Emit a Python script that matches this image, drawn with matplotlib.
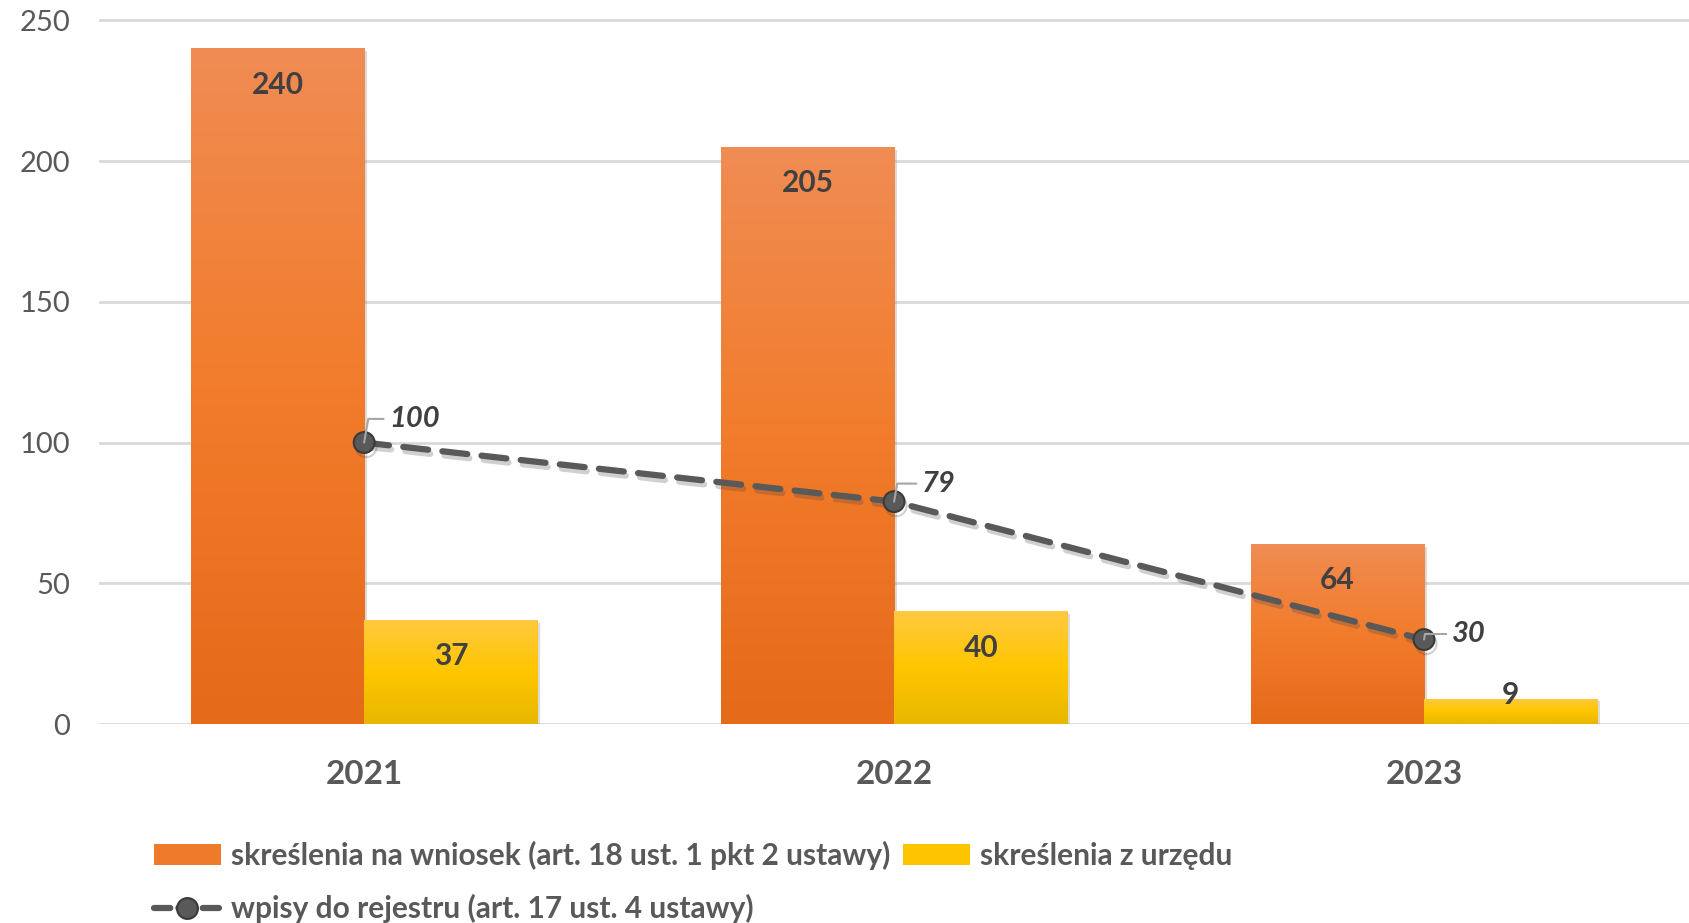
import matplotlib
matplotlib.use("Agg")
import matplotlib.pyplot as plt
import matplotlib.patheffects as pe
import numpy as np
from matplotlib.colors import LinearSegmentedColormap
from matplotlib.lines import Line2D
from matplotlib.patches import Patch

# data
years = ["2021", "2022", "2023"]
na_wniosek = [240, 205, 64]
z_urzedu = [37, 40, 9]
wpisy = [100, 79, 30]

label_bars = "skreślenia na wniosek (art. 18 ust. 1 pkt 2 ustawy)"
label_urzad = "skreślenia z urzędu"
label_wpisy = "wpisy do rejestru (art. 17 ust. 4 ustawy)"

# offsets (points) of the italic line labels from their markers
line_label_offsets = [(18, 17), (20, 13), (20, 4)]

plt.rcParams["font.family"] = ["Lato", "DejaVu Sans"]

TXT = "#595959"
DARK = "#404040"
orange_cmap = LinearSegmentedColormap.from_list("o", ["#E56A1A", "#F27C2B", "#F08C54"])
yellow_cmap = LinearSegmentedColormap.from_list("y", ["#E8B700", "#FFC600", "#FFC940"])

fig = plt.figure(figsize=(16.89, 9.23), dpi=100)
ax = fig.add_axes([0.0587, 0.2156, 0.9413, 0.7654])

x = np.arange(len(years))
w = 0.327

shadow = [pe.SimplePatchShadow(offset=(2, -2), shadow_rgbFace="#8a8a8a", alpha=0.3), pe.Normal()]
b1 = ax.bar(x - w / 2, na_wniosek, w, color="#F27C2B", zorder=2, path_effects=shadow)
b2 = ax.bar(x + w / 2, z_urzedu, w, color="#FFC600", zorder=2, path_effects=shadow)

# vertical gradients clipped to each bar
grad = np.linspace(0, 1, 256).reshape(-1, 1)
for bars, cmap in ((b1, orange_cmap), (b2, yellow_cmap)):
    for p in bars:
        x0, y0 = p.get_x(), p.get_y()
        im = ax.imshow(grad, cmap=cmap, origin="lower", aspect="auto",
                       extent=[x0, x0 + p.get_width(), y0, y0 + p.get_height()],
                       zorder=2.1, interpolation="bicubic")
        im.set_clip_path(p)

# bar value labels
for bars, vals in ((b1, na_wniosek), (b2, z_urzedu)):
    for p, v in zip(bars, vals):
        off = -26 if v > 20 else 3
        ax.annotate(f"{v}", (p.get_x() + p.get_width() / 2, v), xytext=(0, off),
                    textcoords="offset points", ha="center", va="center",
                    fontsize=21.5, fontweight="bold", color=DARK, zorder=5)

line_style = dict(color=TXT, lw=4.5, dash_capstyle="round",
                  marker="o", ms=15, mfc=TXT, mec="#3a3a3a", mew=1.5)
ax.plot(x, wpisy, zorder=4, ls=(0, (4, 2.3)), **line_style,
        path_effects=[pe.SimpleLineShadow(offset=(1.5, -3), shadow_color="#444444", alpha=0.25),
                      pe.Normal()])

for xi, v, (dx, dy) in zip(x, wpisy, line_label_offsets):
    ax.annotate(f"{v}", (xi, v), xytext=(dx, dy), textcoords="offset points",
                ha="left", va="center", fontsize=21, fontweight="bold", fontstyle="italic",
                color=DARK, zorder=6,
                arrowprops=dict(arrowstyle="-", color="#a6a6a6", lw=1.5, shrinkA=2, shrinkB=0,
                                connectionstyle="angle,angleA=0,angleB=80,rad=0"))

ax.set_xlim(-0.5, 2.5)
ax.set_ylim(0, 251)
ax.set_yticks([0, 50, 100, 150, 200, 250])
ax.set_xticks(x)
ax.set_xticklabels(years, fontsize=24, fontweight="bold", color=TXT)
ax.tick_params(axis="y", labelsize=21, labelcolor=TXT, length=0, pad=21)
ax.tick_params(axis="x", length=0, pad=26)
ax.yaxis.grid(True, color="#d9d9d9", lw=2, zorder=0)
ax.set_axisbelow(True)
for s in ax.spines.values():
    s.set_visible(False)

handles = [Patch(facecolor="#F07A2C", label=label_bars),
           Line2D([], [], label=label_wpisy, ls=(0, (2.6, 1.3)), **line_style),
           Patch(facecolor="#FFC400", label=label_urzad)]
fig.legend(handles=handles, ncol=2, numpoints=1,
           loc="upper left", bbox_to_anchor=(0.075, 0.118), frameon=False,
           prop={"size": 21.5, "weight": "bold"}, labelcolor=TXT,
           handlelength=2.25, handleheight=0.7, handletextpad=0.35, columnspacing=0.4,
           labelspacing=0.8)

fig.savefig("out.png", dpi=100)
